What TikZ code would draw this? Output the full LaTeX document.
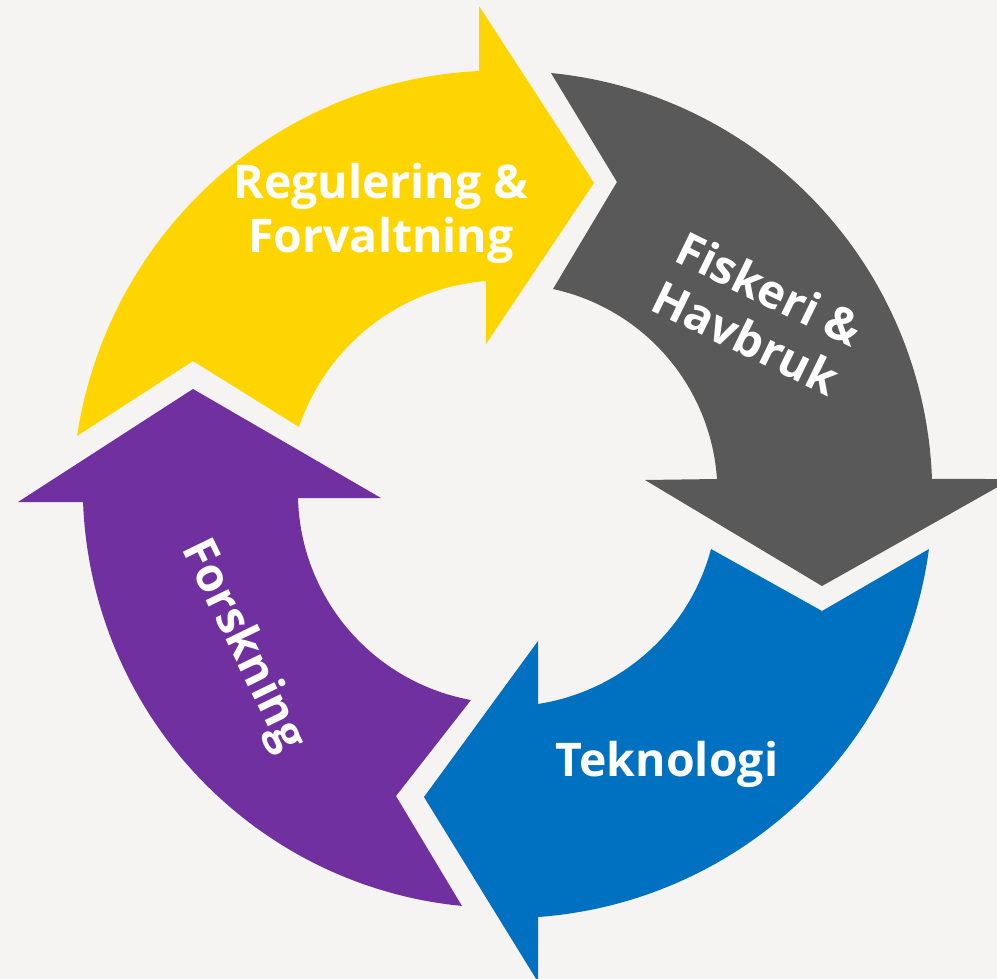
\documentclass[tikz,border=0pt]{standalone}
\usepackage{fontspec}
\setmainfont{Open Sans}
\definecolor{bgc}{HTML}{F5F4F2}
\definecolor{yelc}{HTML}{FFD500}
\definecolor{grac}{HTML}{595959}
\definecolor{bluc}{HTML}{0070C0}
\definecolor{purc}{HTML}{7030A0}
\def\cx{508}
\def\cy{492}
% arc with linearly varying radius: #1 start angle, #2 start radius, #3 end angle, #4 end radius
\newcommand\ringarc[4]{-- plot[domain=#1:#3,samples=60,smooth] ({\cx+(#2+(#4-#2)*(\x-#1)/(#3-#1))*cos(\x)},{\cy+(#2+(#4-#2)*(\x-#1)/(#3-#1))*sin(\x)})}
\tikzset{
  lbl/.style={text=white,font=\fontsize{34.8}{40.5}\selectfont\bfseries,align=center,inner sep=0pt}
}
\begin{document}
\begin{tikzpicture}[x=0.75pt,y=-0.75pt]
\useasboundingbox (0,0) rectangle (997,979);
\fill[bgc] (0,0) rectangle (997,979);
\clip (0,0) rectangle (997,979);
% yellow arrow
\coordinate (yto) at (77,436);
\coordinate (yho) at (479,6);
\coordinate (ytip) at (594,183);
\coordinate (yhi) at (486,344);
\coordinate (yei) at (486,281);
\coordinate (yn) at (193,361);
\fill[yelc] (yto) \ringarc{187.40}{434.6}{266.06}{422.0} -- (yho) -- (ytip) -- (yhi) -- (yei)
  \ringarc{264.05}{212.1}{197.28}{218.9} -- (yn) -- cycle;
% grey arrow
\coordinate (gto) at (551,73);
\coordinate (gho) at (1012,479);
\coordinate (gtip) at (822,586);
\coordinate (ghi) at (645,480);
\coordinate (gei) at (717,479);
\coordinate (gn) at (617,182);
\fill[grac] (gto) \ringarc{275.86}{421.2}{358.24}{424.2} -- (gho) -- (gtip) -- (ghi) -- (gei)
  \ringarc{356.44}{209.4}{282.50}{207.9} -- (gn) -- cycle;
% blue arrow
\coordinate (bto) at (929,549);
\coordinate (bho) at (538,982);
\coordinate (btip) at (424,797);
\coordinate (bhi) at (538,641);
\coordinate (bei) at (538,704);
\coordinate (bn) at (822,611);
\fill[bluc] (bto) \ringarc{7.71}{424.8}{85.96}{426.1} -- (bho) -- (btip) -- (bhi) -- (bei)
  \ringarc{81.95}{214.1}{15.68}{210.9} -- (bn) -- cycle;
% purple arrow
\coordinate (pto) at (462,906);
\coordinate (pho) at (18,502);
\coordinate (ptip) at (193,389);
\coordinate (phi) at (381,498);
\coordinate (pei) at (298,498);
\coordinate (pn) at (396,796);
\fill[purc] (pto) \ringarc{96.34}{416.5}{178.65}{425.1} -- (pho) -- (ptip) -- (phi) -- (pei)
  \ringarc{178.36}{210.1}{100.09}{211.3} -- (pn) -- cycle;
% labels
\node[lbl] (reg) at (381,213) {Regulering \&\\Forvaltning};
\node[lbl,rotate=-26] (fis) at (758,313) {Fiskeri \&\\Havbruk};
\node[lbl,anchor=base] (tek) at (667,776) {Teknologi};
\node[lbl,rotate=-64] (for) at (242,646) {Forskning};
\end{tikzpicture}
\end{document}
